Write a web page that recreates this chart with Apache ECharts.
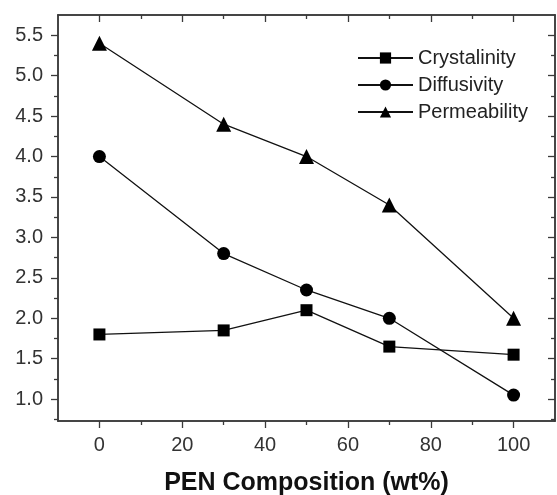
<!DOCTYPE html>
<html>
<head>
<meta charset="utf-8">
<script src="https://cdn.jsdelivr.net/npm/echarts@6/dist/echarts.min.js"></script>
<style>
  html, body { margin: 0; padding: 0; background: #fff; }
  #chart { width: 557px; height: 495px; }
</style>
</head>
<body>
<div id="chart"></div>
<script>
// PEN composition (wt%) and measured properties
const composition = [0, 30, 50, 70, 100];
const crystalinity = [1.8, 1.85, 2.1, 1.65, 1.55];
const diffusivity = [4.0, 2.8, 2.35, 2.0, 1.05];
const permeability = [5.4, 4.4, 4.0, 3.4, 2.0];

const xMajorTicks = [0, 20, 40, 60, 80, 100];
const xMinorTicks = [10, 30, 50, 70, 90];
const yMajorTicks = [1.0, 1.5, 2.0, 2.5, 3.0, 3.5, 4.0, 4.5, 5.0, 5.5];
const yMinorTicks = [0.75, 1.25, 1.75, 2.25, 2.75, 3.25, 3.75, 4.25, 4.75, 5.25];

const X_MIN = -10, X_MAX = 110;
const Y_MIN = 0.73, Y_MAX = 5.75;

const FONT = 'Liberation Sans, Arial, sans-serif';
const AXIS_COLOR = '#3a3a3a';
const LABEL_COLOR = '#333';

function pairs(ys) {
  return composition.map((x, i) => [x, ys[i]]);
}

// one value axis; the extra copies only carry tick marks
function xAx(opts) {
  return Object.assign({
    type: 'value', min: X_MIN, max: X_MAX,
    splitLine: { show: false },
    axisLine: { show: true, onZero: false, lineStyle: { color: AXIS_COLOR, width: 1.5 } },
    axisLabel: { show: false },
  }, opts);
}
function yAx(opts) {
  return Object.assign({
    type: 'value', min: Y_MIN, max: Y_MAX,
    splitLine: { show: false },
    axisLine: { show: true, onZero: false, lineStyle: { color: AXIS_COLOR, width: 1.5 } },
    axisLabel: { show: false },
  }, opts);
}
function ticks(values, len, inside) {
  return { show: true, customValues: values, length: len, inside: !!inside,
           lineStyle: { color: AXIS_COLOR, width: 1.3 } };
}

const lineStyle = { color: '#111', width: 1.3 };
const itemStyle = { color: '#000' };

const option = {
  backgroundColor: '#fff',
  animation: false,
  grid: { left: 58, right: 2, top: 15, bottom: 74, containLabel: false, outerBoundsMode: 'none' },
  legend: {
    orient: 'vertical',
    left: 357, top: 48, padding: 0,
    itemWidth: 55, itemHeight: 14, itemGap: 7,
    textStyle: { fontFamily: FONT, fontSize: 20, color: '#222', lineHeight: 20 },
    data: ['Crystalinity', 'Diffusivity', 'Permeability']
  },
  xAxis: [
    xAx({
      position: 'bottom',
      axisTick: ticks(xMajorTicks, 7),
      axisLabel: { show: true, customValues: xMajorTicks, margin: 14,
                   fontFamily: FONT, fontSize: 20, color: LABEL_COLOR },
      name: 'PEN Composition (wt%)',
      nameLocation: 'middle', nameGap: 50,
      nameTextStyle: { fontFamily: FONT, fontSize: 25, fontWeight: 'bold', color: '#111' }
    }),
    xAx({ position: 'bottom', axisTick: ticks(xMinorTicks, 4) }),
    xAx({ position: 'top', axisTick: ticks(xMajorTicks, 7, true) }),
    xAx({ position: 'top', axisTick: ticks(xMinorTicks, 4, true) })
  ],
  yAxis: [
    yAx({
      position: 'left',
      axisTick: ticks(yMajorTicks, 7),
      axisLabel: { show: true, customValues: yMajorTicks, margin: 15,
                   formatter: v => v.toFixed(1),
                   fontFamily: FONT, fontSize: 20, color: LABEL_COLOR }
    }),
    yAx({ position: 'left', axisTick: ticks(yMinorTicks, 4) }),
    yAx({ position: 'right', axisTick: ticks(yMajorTicks, 7, true) }),
    yAx({ position: 'right', axisTick: ticks(yMinorTicks, 4, true) })
  ],
  series: [
    { name: 'Crystalinity', type: 'line', data: pairs(crystalinity),
      symbol: 'rect', symbolSize: 12, lineStyle, itemStyle },
    { name: 'Diffusivity', type: 'line', data: pairs(diffusivity),
      symbol: 'circle', symbolSize: 13, lineStyle, itemStyle },
    { name: 'Permeability', type: 'line', data: pairs(permeability),
      symbol: 'triangle', symbolSize: 15, lineStyle, itemStyle }
  ]
};

const chart = echarts.init(document.getElementById('chart'), null, { renderer: 'canvas' });
chart.setOption(option);
</script>
</body>
</html>
